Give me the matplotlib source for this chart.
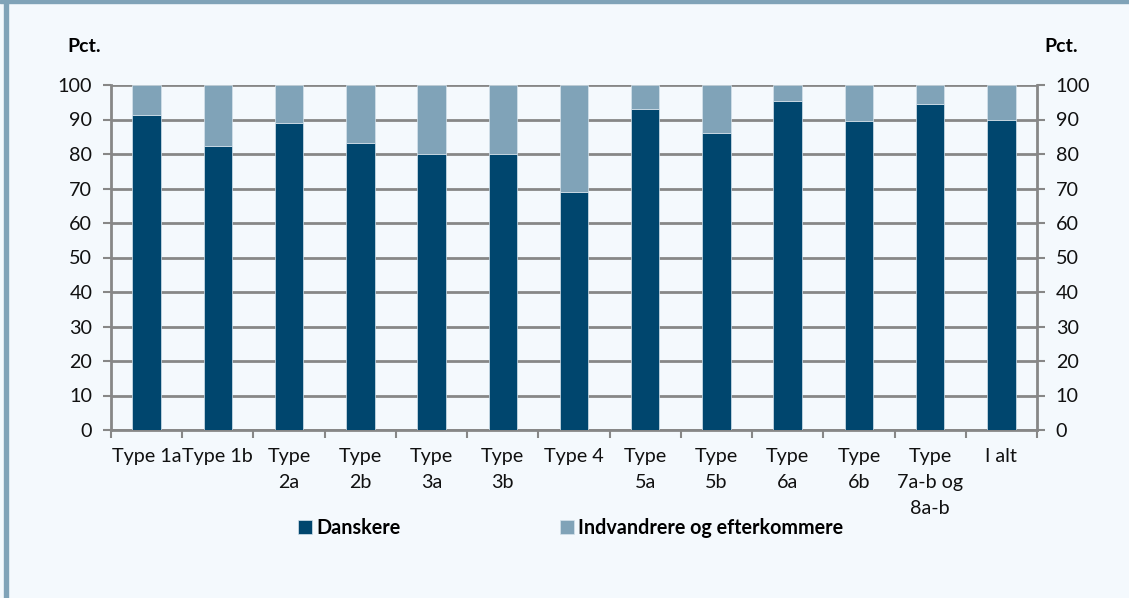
import numpy as np
import matplotlib.pyplot as plt
from matplotlib.patches import Rectangle

plt.rcParams['font.family'] = ['Lato', 'DejaVu Sans']

categories = ['Type 1a', 'Type 1b', 'Type\n2a', 'Type\n2b', 'Type\n3a', 'Type\n3b', 'Type 4',
              'Type\n5a', 'Type\n5b', 'Type\n6a', 'Type\n6b', 'Type\n7a-b og\n8a-b', 'I alt']
danskere = [91.2, 82.3, 89.1, 83.2, 80.0, 80.0, 68.9, 93.1, 86.2, 95.3, 89.7, 94.5, 90.0]
indvandrere = [100 - v for v in danskere]
yticks = list(range(0, 101, 10))

dark = '#00466e'
light = '#80a3b8'
bg = '#f4f9fd'
grid_c = '#878787'
fs = 14.2

fig = plt.figure(figsize=(11.29, 5.98), dpi=100, facecolor=bg)
# frame lines at left and top
fig.patches.append(Rectangle((4 / 1129, 0), 3.5 / 1129, 1, transform=fig.transFigure,
                             color=light, zorder=0))
fig.patches.append(Rectangle((0, 1 - 2.5 / 598), 1, 2.5 / 598, transform=fig.transFigure,
                             color=light, zorder=0))

ax = fig.add_axes([111 / 1129, 1 - 430 / 598, 926 / 1129, 345 / 598])
ax.set_facecolor(bg)
x = np.arange(len(categories))
ax.bar(x, danskere, width=0.4, color=dark, edgecolor='#d6e3ec', linewidth=0.5,
       label='Danskere', zorder=3)
ax.bar(x, indvandrere, width=0.4, bottom=danskere, color=light, edgecolor='#d6e3ec',
       linewidth=0.5, label='Indvandrere og efterkommere', zorder=3)

ax.set_xlim(-0.5, len(categories) - 0.5)
ax.set_ylim(0, 100)
ax.set_yticks(yticks)
ax.yaxis.grid(True, color=grid_c, linewidth=2, zorder=1)
ax.set_axisbelow(True)
ax.spines['top'].set_visible(False)
for s in ['left', 'right', 'bottom']:
    ax.spines[s].set_color(grid_c)
    ax.spines[s].set_linewidth(2)
ax.tick_params(axis='y', which='both', left=True, right=True, labelleft=True, labelright=True,
               length=5.5, width=1.5, color=grid_c, labelsize=fs, pad=8)
ax.set_xticks(x)
ax.set_xticklabels(categories, fontsize=fs, linespacing=1.65, va='top')
ax.set_xticks(np.arange(-0.5, len(categories), 1), minor=True)
ax.tick_params(axis='x', which='major', length=0, pad=13)
ax.tick_params(axis='x', which='minor', length=5.5, width=1.5, color=grid_c)
for lbl in ax.get_yticklabels() + ax.get_xticklabels():
    lbl.set_color('#111111')

fig.text(84 / 1129, 1 - 46 / 598, 'Pct.', ha='center', va='center', fontsize=14,
         fontweight='bold')
fig.text(1061 / 1129, 1 - 46 / 598, 'Pct.', ha='center', va='center', fontsize=14,
         fontweight='bold')

leg = fig.legend(loc='center left', bbox_to_anchor=(298 / 1129, 1 - 528 / 598), ncol=2,
                 frameon=False, handlelength=0.7, handleheight=0.7, handletextpad=0.25,
                 columnspacing=8.05, prop={'weight': 'bold', 'size': fs}, borderaxespad=0,
                 borderpad=0)

fig.savefig('out.png', dpi=100, facecolor=bg)
